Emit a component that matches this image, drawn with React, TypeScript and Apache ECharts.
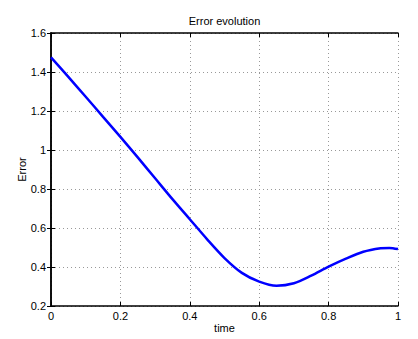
import React, { useEffect, useRef } from "react";
import * as echarts from "echarts";

const times = [0, 0.05, 0.1, 0.15, 0.2, 0.25, 0.3, 0.35, 0.4, 0.45, 0.5, 0.55, 0.6, 0.65, 0.7, 0.75, 0.8, 0.85, 0.9, 0.95, 0.975, 1.0];
const errors = [1.475, 1.375, 1.273, 1.17, 1.067, 0.962, 0.855, 0.748, 0.645, 0.542, 0.446, 0.37, 0.325, 0.304, 0.317, 0.356, 0.402, 0.443, 0.478, 0.496, 0.498, 0.492];
const titleText = "Error evolution";
const xName = "time";
const yName = "Error";

export default function App() {
  const ref = useRef<HTMLDivElement>(null);
  useEffect(() => {
    if (!ref.current) return;
    const chart = echarts.init(ref.current, null, { renderer: "svg" });
    const font = "Liberation Sans, Arial, sans-serif";
    const gridLine = { show: true, lineStyle: { color: "#999", type: [1, 3], width: 1 } };
    const data = times.map((t, i) => [t, errors[i]]);
    chart.setOption({
      animation: false,
      backgroundColor: "#fff",
      title: {
        text: titleText,
        left: 224.5,
        textAlign: "center",
        top: 15,
        padding: 0,
        textStyle: { fontFamily: font, fontSize: 11, fontWeight: "normal", color: "#000" },
      },
      grid: { left: 51, top: 33, right: 20, bottom: 33, show: false, containLabel: false, outerBoundsMode: "none" },
      xAxis: [
        {
          type: "value",
          min: 0,
          max: 1,
          interval: 0.2,
          name: xName,
          nameLocation: "middle",
          nameGap: 16,
          nameMoveOverlap: false,
          nameTextStyle: { fontFamily: font, fontSize: 11, color: "#000" },
          axisLine: { show: true, lineStyle: { color: "#000", width: 1.5 } },
          axisTick: { show: true, inside: true, length: 4, lineStyle: { color: "#000" } },
          axisLabel: { fontFamily: font, fontSize: 11, color: "#000", margin: 4 },
          splitLine: gridLine,
        },
        {
          type: "value",
          position: "top",
          min: 0,
          max: 1,
          interval: 0.2,
          axisLine: { show: true, lineStyle: { color: "#000", width: 1.5 } },
          axisTick: { show: true, inside: true, length: 4, lineStyle: { color: "#000" } },
          axisLabel: { show: false },
          splitLine: { show: false },
        },
      ],
      yAxis: [
        {
          type: "value",
          min: 0.2,
          max: 1.6,
          interval: 0.2,
          name: yName,
          nameLocation: "middle",
          nameGap: 24,
          nameMoveOverlap: false,
          nameRotate: 90,
          nameTextStyle: { fontFamily: font, fontSize: 11, color: "#000" },
          axisLine: { show: true, lineStyle: { color: "#000", width: 1.5 } },
          axisTick: { show: true, inside: true, length: 4, lineStyle: { color: "#000" } },
          axisLabel: { fontFamily: font, fontSize: 11, color: "#000", margin: 5 },
          splitLine: gridLine,
        },
        {
          type: "value",
          position: "right",
          min: 0.2,
          max: 1.6,
          interval: 0.2,
          axisLine: { show: true, lineStyle: { color: "#000", width: 1.5 } },
          axisTick: { show: true, inside: true, length: 4, lineStyle: { color: "#000" } },
          axisLabel: { show: false },
          splitLine: { show: false },
        },
      ],
      series: [
        {
          type: "line",
          data,
          smooth: 0.3,
          showSymbol: false,
          lineStyle: { color: "#0000ff", width: 2.5 },
          xAxisIndex: 0,
          yAxisIndex: 0,
        },
      ],
    });
    return () => chart.dispose();
  }, []);
  return <div ref={ref} style={{ position: "fixed", left: 0, top: 0, width: 418, height: 339 }} />;
}
